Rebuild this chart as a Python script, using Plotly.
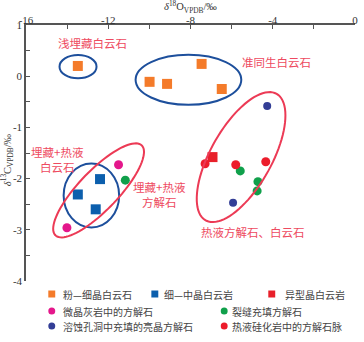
import numpy as np
import plotly.graph_objects as go

# ---------------- data ----------------
fine_dolo_x = [-13.48, -9.99, -9.14, -7.46, -6.48]
fine_dolo_y = [0.20, -0.11, -0.15, 0.24, -0.25]
med_dolo_x = [-12.40, -13.48, -12.61]
med_dolo_y = [-2.01, -2.31, -2.60]
odd_dolo_x = [-6.93]
odd_dolo_y = [-1.58]
micrite_cal_x = [-11.50, -14.01]
micrite_cal_y = [-1.73, -2.96]
fracture_cal_x = [-11.17, -5.58, -4.72, -4.76]
fracture_cal_y = [-2.03, -1.85, -2.06, -2.24]
vug_cal_x = [-4.27, -5.93]
vug_cal_y = [-0.58, -2.47]
vein_cal_x = [-7.29, -5.80, -4.34]
vein_cal_y = [-1.71, -1.73, -1.67]

series_names = ["粉—细晶白云石", "细—中晶白云岩", "异型晶白云岩",
                "微晶灰岩中的方解石", "裂缝充填方解石",
                "溶蚀孔洞中充填的亮晶方解石", "热液硅化岩中的方解石脉"]
colors = ["#f47b2a", "#0c5fad", "#e8202a", "#e4178b", "#10a04b", "#333e96", "#ec1c2b"]
symbols = ["square", "square", "square", "circle", "circle", "circle", "circle"]
sizes = [10, 10, 10, 9, 9, 8, 9]
xs = [fine_dolo_x, med_dolo_x, odd_dolo_x, micrite_cal_x, fracture_cal_x, vug_cal_x, vein_cal_x]
ys = [fine_dolo_y, med_dolo_y, odd_dolo_y, micrite_cal_y, fracture_cal_y, vug_cal_y, vein_cal_y]

x_ticks = [-16, -12, -8, -4, 0]
y_ticks = [1, 0, -1, -2, -3, -4]

# ---------------- layout constants ----------------
W, H = 364, 342
L, R, T, B = 26, 6, 25, 61
pw, ph = W - L - R, H - T - B
sx = pw / 16.0   # px per unit x
sy = ph / 5.0    # px per unit y

BLUE = "#1d4f9c"
PINK = "#ec3a55"
TXT = "#ee4a60"

fig = go.Figure()
for name, x, y, c, s, sz in zip(series_names, xs, ys, colors, symbols, sizes):
    fig.add_trace(go.Scatter(x=x, y=y, mode="markers", name=name,
                             marker=dict(color=c, symbol=s, size=sz, line=dict(width=0)),
                             showlegend=False))

shapes = []
# axis-aligned ellipses (center, rx, ry in data units)
for cx, cy, rx, ry in [(-13.47, 0.186, 0.90, 0.227), (-8.10, -0.07, 2.57, 0.49),
                       (-12.82, -2.33, 1.35, 0.625)]:
    shapes.append(dict(type="circle", xref="x", yref="y", x0=cx - rx, x1=cx + rx,
                       y0=cy - ry, y1=cy + ry, line=dict(color=BLUE, width=2)))

def tilted(cx, cy, a, b, theta_deg):
    th = np.radians(theta_deg)
    t = np.linspace(0, 2 * np.pi, 90)
    dx = a * np.cos(t) * np.sin(th) + b * np.sin(t) * np.cos(th)
    dy = a * np.cos(t) * np.cos(th) - b * np.sin(t) * np.sin(th)
    X = cx + dx / sx
    Y = cy + dy / sy
    p = "M " + " L ".join(f"{u:.4f},{v:.4f}" for u, v in zip(X, Y)) + " Z"
    return p

for cx, cy, a, b, th in [(-12.47, -2.23, 62.6, 19.8, 44.1), (-5.54, -1.58, 72.7, 30.7, 29.6)]:
    shapes.append(dict(type="path", xref="x", yref="y", path=tilted(cx, cy, a, b, th),
                       line=dict(color=PINK, width=2)))

annotations = []
def px2paper(px, py):
    return (px - L) / pw, (H - B - py) / ph

cjk = "Noto Sans CJK SC"
for txt, px, py in [("浅埋藏白云石", 93, 43), ("准同生白云石", 279, 62),
                    ("埋藏+热液<br>白云石", 58, 159), ("埋藏+热液<br>方解石", 161, 194.5),
                    ("热液方解石、白云石", 255.5, 232)]:
    xp, yp = px2paper(px, py)
    annotations.append(dict(text=txt, x=xp, y=yp, xref="paper", yref="paper",
                            showarrow=False, xanchor="center", yanchor="middle",
                            font=dict(family=cjk, size=11.5, color=TXT)))

# axis titles
xp, yp = px2paper(192, 6.5)
annotations.append(dict(text="<i>δ</i><sup>18</sup>O<sub>VPDB</sub>/‰", x=xp, y=yp,
                        xref="paper", yref="paper", showarrow=False,
                        xanchor="center", yanchor="middle",
                        font=dict(family="Liberation Serif", size=10.5, color="#333")))
xp, yp = px2paper(7, 160)
annotations.append(dict(text="<i>δ</i><sup>13</sup>C<sub>VPDB</sub>/‰", x=xp, y=yp,
                        xref="paper", yref="paper", showarrow=False, textangle=-90,
                        xanchor="center", yanchor="middle",
                        font=dict(family="Liberation Serif", size=10.5, color="#333")))

# manual legend
leg = [(0, 52, 294, 61), (1, 156, 294, 163), (2, 274, 294, 285),
       (3, 52, 311, 61), (4, 226, 311, 232),
       (5, 52, 326, 61), (6, 226, 326, 232)]
for i, mx, my, tx in leg:
    x0, y0 = px2paper(mx - 3.5, my + 3.5)
    x1, y1 = px2paper(mx + 3.5, my - 3.5)
    shapes.append(dict(type="rect" if symbols[i] == "square" else "circle",
                       xref="paper", yref="paper", x0=x0, x1=x1, y0=y0, y1=y1,
                       fillcolor=colors[i], line=dict(width=0)))
    xp, yp = px2paper(tx, my)
    annotations.append(dict(text=series_names[i], x=xp, y=yp, xref="paper", yref="paper",
                            showarrow=False, xanchor="left", yanchor="middle",
                            font=dict(family=cjk, size=10, color="#444")))

fig.update_layout(
    width=W, height=H, margin=dict(l=L, r=R, t=T, b=B),
    plot_bgcolor="white", paper_bgcolor="white",
    shapes=shapes, annotations=annotations, showlegend=False,
    xaxis=dict(range=[-16, 0], side="top", tickvals=x_ticks, ticktext=[str(v) for v in x_ticks],
               ticks="inside", ticklen=4, tickcolor="#555", showgrid=False, zeroline=False,
               showline=True, linecolor="#555", linewidth=1.5, ticklabelstandoff=-5,
               minor=dict(dtick=2, ticks="inside", ticklen=4, tickcolor="#555"),
               tickfont=dict(family="Liberation Serif", size=11, color="#333")),
    yaxis=dict(range=[-4, 1], tickvals=y_ticks, ticktext=[str(v) for v in y_ticks],
               ticks="inside", ticklen=4, tickcolor="#555", showgrid=False, zeroline=False,
               showline=True, linecolor="#555", linewidth=1.5,
               minor=dict(dtick=0.5, ticks="inside", ticklen=4, tickcolor="#555"),
               tickfont=dict(family="Liberation Serif", size=11, color="#333")),
)
fig.write_html("out.html")
